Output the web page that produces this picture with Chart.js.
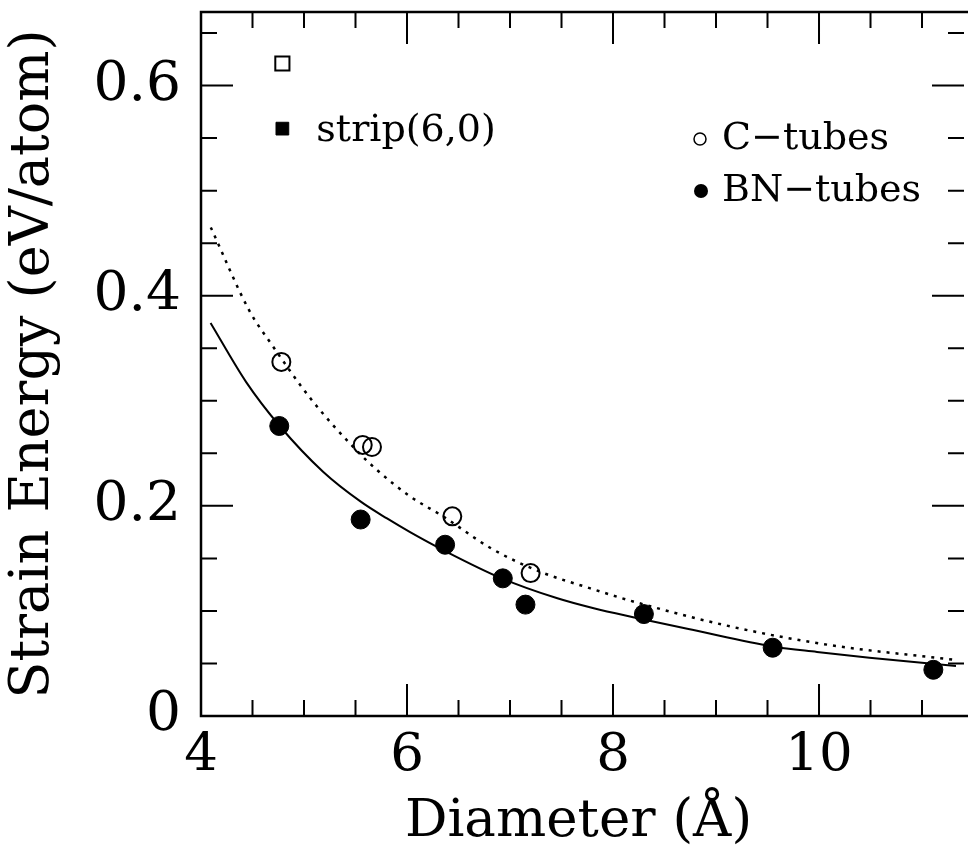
<!DOCTYPE html>
<html>
<head>
<meta charset="utf-8">
<script src="https://cdn.jsdelivr.net/npm/chart.js@4/dist/chart.umd.min.js"></script>
<style>
html,body{margin:0;padding:0;background:#fff;overflow:hidden;}
</style>
</head>
<body>
<canvas id="c" width="968" height="860"></canvas>
<script>
// ---- data ----
const cDiam   = [4.78, 5.57, 5.66, 6.44, 7.20];
const cEnergy = [0.337, 0.258, 0.256, 0.190, 0.136];

const bnDiam   = [4.76, 5.55, 6.37, 6.93, 7.15, 8.30, 9.55, 11.11];
const bnEnergy = [0.276, 0.187, 0.163, 0.131, 0.106, 0.097, 0.065, 0.044];

const stripDiam     = [4.79];
const stripCEnergy  = [0.621];
const stripBNEnergy = [0.559];

const cFitDiam   = [4.095, 4.468, 4.69, 5.073, 5.488, 5.71, 6.03, 6.35, 6.826, 7.30, 7.78, 8.195, 9.15, 10.1, 11.33];
const cFitEnergy = [0.465, 0.386, 0.353, 0.301, 0.255, 0.234, 0.209, 0.190, 0.159, 0.137, 0.1215, 0.109, 0.085, 0.0676, 0.0533];

const bnFitDiam   = [4.093, 4.437, 4.764, 5.185, 5.551, 5.806, 6.03, 6.35, 6.92, 7.46, 7.813, 8.195, 8.77, 9.56, 9.98, 10.49, 11.33];
const bnFitEnergy = [0.374, 0.318, 0.276, 0.2325, 0.204, 0.188, 0.175, 0.158, 0.131, 0.112, 0.1025, 0.094, 0.082, 0.066, 0.061, 0.0555, 0.0476];

const xMajorTicks = [4, 6, 8, 10];
const xMinorTicks = [4.5, 5, 5.5, 6.5, 7, 7.5, 8.5, 9, 9.5, 10.5, 11];
const yMajorTicks = [0, 0.2, 0.4, 0.6];
const yMinorTicks = [0.05, 0.1, 0.15, 0.25, 0.3, 0.35, 0.45, 0.5, 0.55, 0.65];

const legendLabels = ['C\u2212tubes', 'BN\u2212tubes'];
const stripLabel = 'strip(6,0)';
const xTitle = 'Diameter (\u00C5)';
const yTitle = 'Strain Energy (eV/atom)';

// ---- build ----
const pts = (xs, ys) => xs.map((x, i) => ({x: x, y: ys[i]}));
const FONT = 'DejaVu Serif';

const frameTicks = {
  id: 'frameTicks',
  afterDraw(chart) {
    const ctx = chart.ctx, a = chart.chartArea;
    const xs = chart.scales.x, ys = chart.scales.y;
    ctx.save();
    ctx.strokeStyle = '#000';
    ctx.lineWidth = 2.5;
    ctx.strokeRect(a.left, a.top, a.right - a.left + 20, a.bottom - a.top);
    ctx.lineWidth = 2;
    const major = 32, minor = 16;
    ctx.beginPath();
    const xt = (v, len) => {
      const p = xs.getPixelForValue(v);
      ctx.moveTo(p, a.bottom); ctx.lineTo(p, a.bottom - len);
      ctx.moveTo(p, a.top); ctx.lineTo(p, a.top + len);
    };
    const yt = (v, len) => {
      const p = ys.getPixelForValue(v);
      ctx.moveTo(a.left, p); ctx.lineTo(a.left + len, p);
      ctx.moveTo(a.right + 8, p); ctx.lineTo(a.right + 8 - len, p);
    };
    xMajorTicks.forEach(v => xt(v, major));
    xMinorTicks.forEach(v => xt(v, minor));
    yMajorTicks.forEach(v => yt(v, major));
    yMinorTicks.forEach(v => yt(v, minor));
    ctx.stroke();

    // legend
    ctx.fillStyle = '#000';
    ctx.font = '38px "' + FONT + '"';
    ctx.textBaseline = 'middle';
    ctx.textAlign = 'left';
    ctx.lineWidth = 1.5;
    ctx.beginPath(); ctx.arc(700, 139, 6, 0, Math.PI * 2); ctx.stroke();
    ctx.fillText(legendLabels[0], 722, 139);
    ctx.beginPath(); ctx.arc(701, 191, 7, 0, Math.PI * 2); ctx.fill();
    ctx.fillText(legendLabels[1], 722, 191);

    // strip label
    const sx = xs.getPixelForValue(stripDiam[0]);
    const sy = ys.getPixelForValue(stripBNEnergy[0]);
    ctx.fillText(stripLabel, sx + 34, sy + 2);
    ctx.restore();
  }
};

new Chart(document.getElementById('c'), {
  type: 'scatter',
  data: {
    datasets: [
      { label: 'C fit', data: pts(cFitDiam, cFitEnergy), showLine: true, pointRadius: 0,
        borderColor: '#000', borderWidth: 2.5, borderDash: [3, 6], cubicInterpolationMode: 'monotone', order: 5 },
      { label: 'BN fit', data: pts(bnFitDiam, bnFitEnergy), showLine: true, pointRadius: 0,
        borderColor: '#000', borderWidth: 2, cubicInterpolationMode: 'monotone', order: 5 },
      { label: legendLabels[0], data: pts(cDiam, cEnergy), pointStyle: 'circle', pointRadius: 9,
        backgroundColor: 'rgba(0,0,0,0)', borderColor: '#000', borderWidth: 2, order: 1 },
      { label: legendLabels[1], data: pts(bnDiam, bnEnergy), pointStyle: 'circle', pointRadius: 9.5,
        backgroundColor: '#000', borderColor: '#000', borderWidth: 1, order: 1 },
      { label: 'strip C', data: pts(stripDiam, stripCEnergy), pointStyle: 'rect', pointRadius: 10,
        backgroundColor: 'rgba(0,0,0,0)', borderColor: '#000', borderWidth: 2, order: 1 },
      { label: 'strip BN', data: pts(stripDiam, stripBNEnergy), pointStyle: 'rect', pointRadius: 9,
        backgroundColor: '#000', borderColor: '#000', borderWidth: 1, order: 1 }
    ]
  },
  options: {
    responsive: false,
    animation: false,
    events: [],
    layout: { padding: { top: 12, right: 0, left: 0, bottom: 0 } },
    plugins: { legend: { display: false }, tooltip: { enabled: false } },
    scales: {
      x: {
        type: 'linear', min: 4, max: 11.33,
        grid: { display: false, drawTicks: false },
        border: { display: false },
        afterBuildTicks: s => { s.ticks = xMajorTicks.map(v => ({ value: v })); },
        afterFit: s => { s.height = 144; s.paddingLeft = 0; s.paddingRight = 0; },
        ticks: { color: '#000', font: { family: FONT, size: 53 }, padding: 8, maxRotation: 0,
                 callback: v => String(v) },
        title: { display: true, text: xTitle, color: '#000', font: { family: FONT, size: 53 },
                 padding: { top: 0, bottom: 6 } }
      },
      y: {
        type: 'linear', min: 0, max: 0.67,
        grid: { display: false, drawTicks: false },
        border: { display: false },
        afterBuildTicks: s => { s.ticks = yMajorTicks.map(v => ({ value: v })); },
        afterFit: s => { s.width = 201; s.paddingTop = 0; s.paddingBottom = 0; },
        ticks: { color: '#000', font: { family: FONT, size: 55 }, padding: 20,
                 callback: v => String(v) },
        title: { display: true, text: yTitle, color: '#000', font: { family: FONT, size: 54 },
                 padding: { top: 2, bottom: 0 } }
      }
    }
  },
  plugins: [frameTicks]
});
</script>
</body>
</html>
